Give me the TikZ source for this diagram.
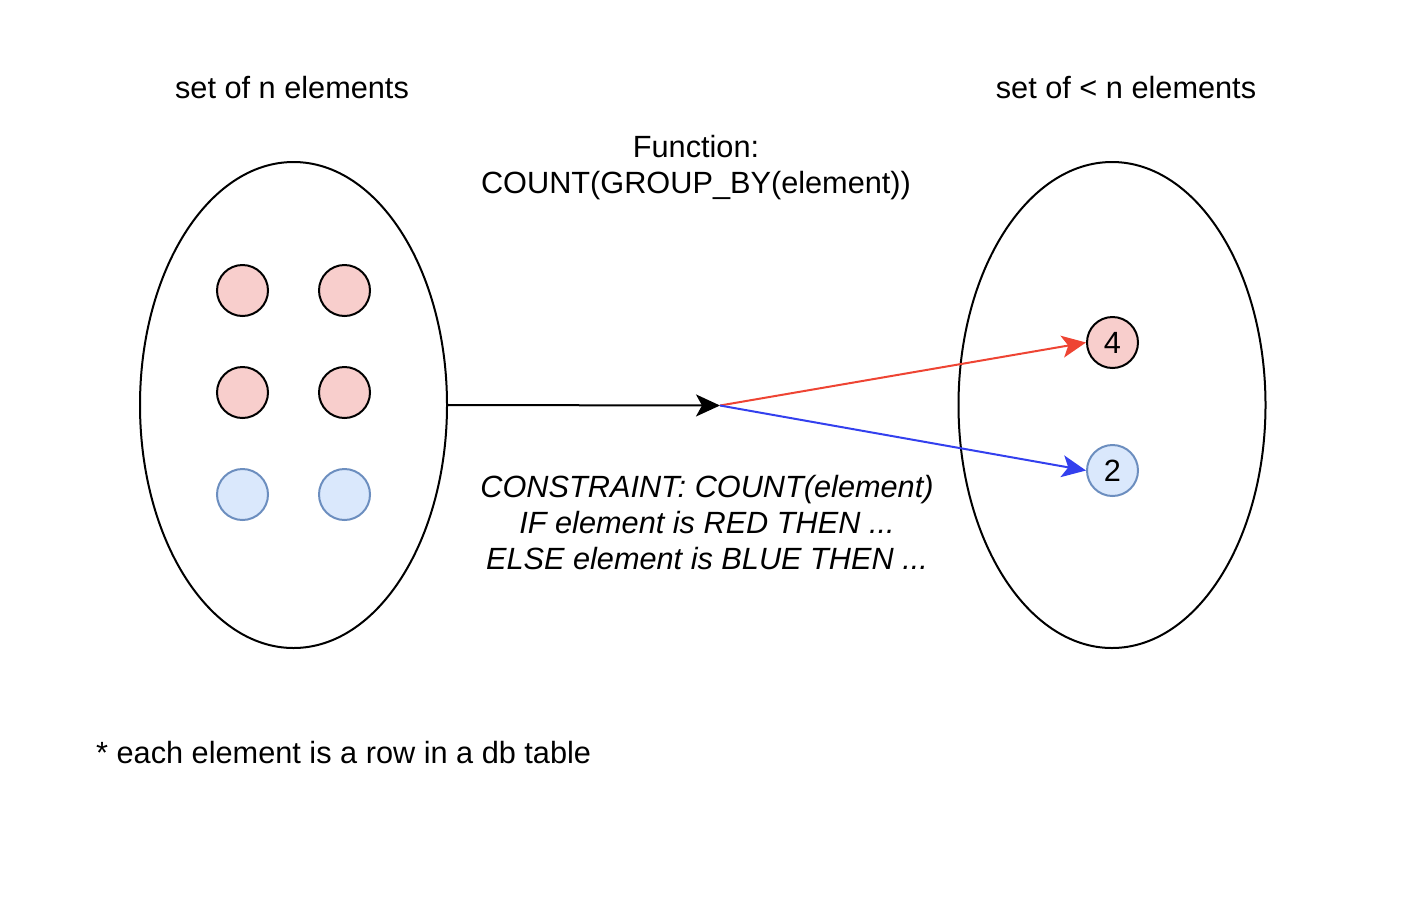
\documentclass[tikz,border=0pt]{standalone}
\usepackage{fontspec}
\setmainfont{Liberation Sans}
\usetikzlibrary{arrows.meta,shapes.geometric}
\definecolor{redfill}{HTML}{F8CECC}
\definecolor{bluefill}{HTML}{DAE8FC}
\definecolor{bluestroke}{HTML}{6C8EBF}
\definecolor{arrred}{HTML}{EE4433}
\definecolor{arrblue}{HTML}{3340EE}
\tikzset{
  setell/.style={ellipse, draw=black, line width=2pt, minimum width=307pt, minimum height=486pt, inner sep=0pt},
  reddot/.style={circle, draw=black, fill=redfill, line width=2pt, minimum size=51pt, inner sep=0pt},
  bluedot/.style={circle, draw=bluestroke, fill=bluefill, line width=2pt, minimum size=51pt, inner sep=0pt},
  lbl/.style={font=\fontsize{30.7pt}{36pt}\selectfont, align=center, inner sep=0pt},
  conn/.style={line width=2pt, -{Stealth[length=24pt,width=22pt,inset=6pt]}},
}
\begin{document}
\begin{tikzpicture}[x=1pt,y=-1pt]
\useasboundingbox (0,0) rectangle (1404,900);
\node[setell] (L) at (293.5,405) {};
\node[setell] (R) at (1112,405) {};
\node[reddot] (a1) at (242.5,290.5) {};
\node[reddot] (a2) at (344.5,290.5) {};
\node[reddot] (a3) at (242.5,392.5) {};
\node[reddot] (a4) at (344.5,392.5) {};
\node[bluedot] (b1) at (242.5,494.5) {};
\node[bluedot] (b2) at (344.5,494.5) {};
\node[reddot, lbl, minimum size=51pt] (r4) at (1112.5,342.5) {4};
\node[bluedot, lbl, minimum size=51pt] (r2) at (1112.5,470.5) {2};
\coordinate (mid) at (720,405.5);
\draw[conn, black] (L.east) -- (mid);
\draw[conn, arrred] (mid) -- (r4.west);
\draw[conn, arrblue] (mid) -- (r2.west);
\node[lbl] (t1) at (292,88) {set of n elements};
\node[lbl] (t2) at (1126,88) {set of {<} n elements};
\node[lbl] (fn) at (696,167.5) {Function:\\COUNT(GROUP\_BY(element))};
\node[lbl, font=\fontsize{30.7pt}{36pt}\selectfont\itshape] (cs) at (707,523) {CONSTRAINT: COUNT(element)\\IF element is RED THEN ...\\ELSE element is BLUE THEN ...};
\node[lbl, anchor=west] (fn2) at (96,753) {* each element is a row in a db table};
\end{tikzpicture}
\end{document}
